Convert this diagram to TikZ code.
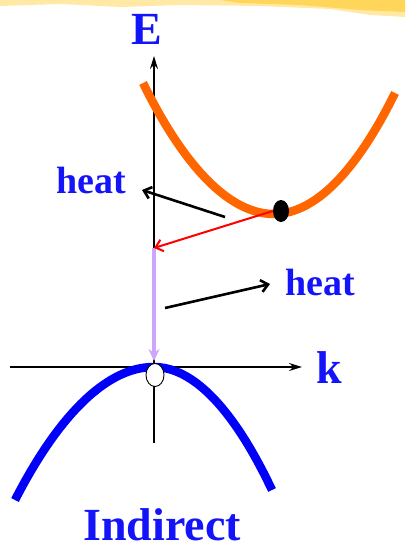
\documentclass[tikz,border=0pt]{standalone}
\usepackage{fontspec}
\setmainfont{Liberation Serif}
\usetikzlibrary{arrows.meta,shapes.geometric}
\definecolor{lblue}{RGB}{20,20,250}
\definecolor{cband}{RGB}{255,102,0}
\definecolor{vband}{RGB}{0,0,250}
\definecolor{lilac}{RGB}{205,165,250}
\definecolor{sun}{RGB}{255,214,90}

\begin{document}
\begin{tikzpicture}[x=1pt,y=-1pt,
  lbl/.style={text=lblue,font=\bfseries\fontsize{46}{46}\selectfont,inner sep=0pt,anchor=base},
  heatlbl/.style={text=lblue,font=\bfseries\fontsize{38}{38}\selectfont,inner sep=0pt,anchor=base},
  axis/.style={draw=black,line width=1.6pt,-{Stealth[length=13pt,width=8pt]}},
  heatarr/.style={line width=2.6pt,-{Straight Barb[length=7pt,width=12pt]}},
  band/.style={line width=8.5pt}]
  \useasboundingbox (0,0) rectangle (405,551);
  % brush strip on top
  \fill[sun!55] (0,0) -- (405,0) -- (405,17) -- (370,15) -- (330,9) -- (260,6)
    -- (180,5) -- (120,7) -- (60,4) -- (0,6) -- cycle;
  \fill[sun] (220,0) -- (405,0) -- (405,12) -- (360,10) -- (300,5) -- (240,3) -- cycle;
  % points
  \coordinate (O) at (154,367);
  \coordinate (Etop) at (154,56);
  \coordinate (Ebot) at (154,443);
  \coordinate (kl) at (10,367);
  \coordinate (kr) at (302,367);
  \coordinate (hA) at (225,217);
  \coordinate (hAtip) at (142,190);
  \coordinate (hB) at (165,308);
  \coordinate (hBtip) at (270,284);
  \coordinate (cbtm) at (154,248);
  \coordinate (hole top) at (154,361);
  % axes
  \draw[axis] (Ebot) -- (Etop);
  \draw[axis] (kl) -- (kr);
  \node[lbl] (E) at (147,45) {E};
  \node[lbl] (k) at (329,383) {k};
  % bands
  \draw[band,cband] (143,83) parabola bend (274,214) (395,93);
  \draw[band,vband] (15,500) parabola bend (154,367) (272,490);
  % transitions
  \draw[line width=3.5pt,lilac,-{Stealth[length=12pt,width=11pt]}] (cbtm) -- (hole top);
  \node[ellipse,draw=black,fill=white,line width=0.9pt,minimum width=18pt,minimum height=23pt,inner sep=0pt] (hole) at (155,375) {};
  \node[ellipse,fill=black,minimum width=16pt,minimum height=22pt,inner sep=0pt] (el) at (281,211) {};
  \draw[red,line width=2pt,-{Straight Barb[length=7pt,width=12pt]}] (el.west) -- (cbtm);
  \draw[heatarr] (hA) -- (hAtip);
  \draw[heatarr] (hB) -- (hBtip);
  \node[heatlbl] (heatA) at (91,193) {heat};
  \node[heatlbl] (heatB) at (320,295) {heat};
  \node[lbl] (ind) at (162,540) {Indirect};
\end{tikzpicture}
\end{document}
